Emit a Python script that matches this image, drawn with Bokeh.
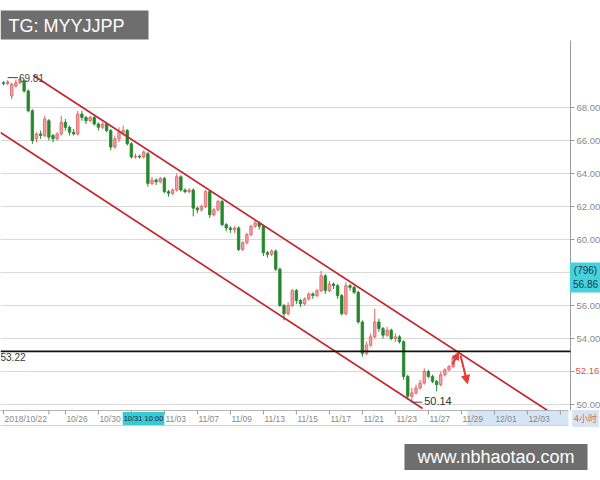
from bokeh.plotting import figure
from bokeh.models import ColumnDataSource, Range1d, Label, Arrow, NormalHead
from bokeh.embed import file_html
from bokeh.resources import INLINE
from bokeh.core.properties import value

# ---------------- data ----------------
opens = [69.5, 69.45, 68.7, 69.3, 69.5, 69.6, 69.0, 67.8, 66.1, 66.4, 66.3,
         67.2, 66.3, 66.1, 66.4, 67.1, 66.8, 66.5, 66.4, 67.6, 67.4,
         67.2, 67.4, 67.0, 66.8, 67.0, 66.6, 65.6, 66.1, 66.5, 66.6,
         65.8, 65.0, 65.05, 65.0, 65.2, 63.4, 63.6, 63.5, 63.7, 62.9,
         62.8, 63.0, 63.8, 63.0, 62.9, 63.0, 61.9, 61.8, 62.0, 62.9,
         61.5, 61.8, 62.3, 60.9, 60.7, 60.6, 60.7, 59.4, 59.8, 60.3,
         60.8, 61.0, 60.8, 59.2, 59.1, 59.3, 58.2, 56.0, 55.5, 56.0,
         56.9, 56.3, 56.1, 56.4, 56.7, 56.6, 56.9, 57.8, 56.9, 57.3,
         57.2, 56.6, 55.5, 57.2, 57.1, 56.8, 55.0, 53.1, 53.6, 54.1,
         55.0, 54.6, 54.2, 54.5, 54.0, 54.1, 53.8, 51.7, 50.5, 50.7,
         51.0, 51.3, 52.0, 51.7, 51.4, 51.2, 51.8, 52.1, 52.3]
closes = [69.45, 69.55, 69.4, 69.5, 69.7, 69.0, 67.8, 66.0, 66.4, 66.3, 67.3,
          66.2, 66.1, 66.4, 67.1, 66.8, 66.5, 66.4, 67.6, 67.4, 67.2,
          67.4, 67.0, 66.8, 67.0, 66.6, 65.6, 66.1, 66.5, 66.6, 65.8,
          65.0, 65.05, 65.0, 65.3, 63.4, 63.6, 63.5, 63.7, 62.9, 62.8,
          63.0, 63.8, 63.0, 62.9, 63.0, 61.9, 61.8, 62.0, 62.9, 61.5,
          61.8, 62.3, 60.9, 60.7, 60.6, 60.7, 59.4, 59.8, 60.3, 60.8,
          61.0, 60.8, 59.2, 59.1, 59.3, 58.2, 56.0, 55.5, 56.0, 56.9,
          56.3, 56.1, 56.4, 56.7, 56.6, 56.9, 57.8, 56.9, 57.3, 57.2,
          56.6, 55.5, 57.2, 57.1, 56.8, 55.0, 53.1, 53.6, 54.1, 55.0,
          54.6, 54.2, 54.5, 54.0, 54.1, 53.8, 51.7, 50.5, 50.7, 51.0,
          51.3, 52.0, 51.7, 51.4, 51.2, 51.8, 52.1, 52.3, 52.8]
highs = [69.6, 69.65, 69.5, 69.7, 69.81, 69.7, 69.1, 67.9, 66.5, 66.6, 67.5,
         67.3, 66.4, 66.5, 67.5, 67.3, 66.9, 66.7, 67.8, 67.8, 67.5,
         67.5, 67.5, 67.1, 67.1, 67.1, 66.7, 66.3, 66.8, 66.9, 66.7,
         65.9, 65.2, 65.15, 65.4, 65.3, 63.8, 63.7, 63.8, 63.8, 63.0,
         63.1, 64.0, 63.9, 63.1, 63.1, 63.1, 62.0, 62.1, 63.0, 63.0,
         61.9, 62.4, 62.4, 61.0, 60.8, 60.8, 60.8, 59.9, 60.4, 60.9,
         61.2, 61.1, 60.9, 59.3, 59.4, 59.4, 58.3, 56.1, 56.2, 57.0,
         57.0, 56.4, 56.5, 56.8, 56.8, 57.0, 58.1, 57.9, 57.5, 57.4,
         57.3, 56.7, 57.4, 57.3, 57.2, 56.9, 55.1, 53.8, 54.3, 55.8,
         55.2, 54.7, 54.7, 54.6, 54.3, 54.2, 53.9, 51.8, 51.0, 51.2,
         51.5, 52.2, 52.1, 51.8, 51.5, 52.0, 52.2, 52.4, 53.0]
lows = [69.35, 69.35, 68.5, 69.2, 69.4, 68.9, 67.7, 65.8, 65.9, 66.1, 66.2,
        66.0, 65.9, 66.0, 66.3, 66.6, 66.3, 66.3, 66.3, 67.2, 67.0,
        67.1, 66.9, 66.6, 66.7, 66.5, 65.4, 65.5, 65.9, 66.3, 65.7,
        64.9, 64.9, 64.9, 64.9, 63.2, 63.3, 63.3, 63.4, 62.8, 62.6,
        62.7, 62.9, 62.9, 62.8, 62.8, 61.4, 61.6, 61.7, 61.9, 61.3,
        61.4, 61.7, 60.8, 60.5, 60.4, 60.4, 59.3, 59.3, 59.7, 60.2,
        60.7, 60.6, 59.0, 58.9, 59.0, 58.1, 55.9, 55.1, 55.4, 55.9,
        56.1, 55.9, 56.0, 56.3, 56.4, 56.5, 56.8, 56.7, 56.8, 57.0,
        56.4, 55.4, 55.4, 56.9, 56.7, 54.9, 52.9, 53.0, 53.5, 54.0,
        54.4, 54.0, 54.1, 53.9, 53.8, 53.7, 51.5, 50.3, 50.14, 50.6,
        50.9, 51.2, 51.6, 51.3, 50.8, 51.1, 51.7, 52.0, 52.2]
bar_index = list(range(len(opens)))

tick_pos = [0, 11, 15, 23, 31, 39, 47, 55, 63, 71, 79, 87, 95, 103, 111, 119, 127, 135]
tick_labels = ["2018/10/22", "", "10/26", "10/30", "", "11/03", "11/07", "11/09", "11/13",
               "11/15", "11/17", "11/21", "11/23", "11/27", "11/29", "12/01", "12/03", ""]
y_ticks = [50, 52, 54, 56, 58, 60, 62, 64, 66, 68]
y_tick_labels = ["50.00", "", "54.00", "56.00", "", "60.00", "62.00", "64.00", "66.00", "68.00"]

channel_upper_x = [7.27, 131.9]
channel_upper_y = [69.94, 49.64]
channel_lower_x = [-0.73, 101.6]
channel_lower_y = [66.48, 49.76]
support_level = 53.22
peak_value, peak_index = 69.81, 4
trough_value, trough_index = 50.14, 100
last_price = "52.16"
crosshair_text = "(796)\n56.86"
crosshair_time = "10/31 10:00"
period_text = "4小时"

# ---------------- helpers: reference pixel -> data ----------------
def px_x(X):
    return (X - 3) / 4.125

def px_y(Y):
    return 68 - (Y - 107) / 16.5

FONT = value("Liberation Sans")
UP_FILL, UP_LINE = "#f2a0a0", "#df5f62"
DN_FILL, DN_LINE = "#27872f", "#27872f"
AX = "#9a9a9a"

p = figure(width=600, height=480, output_backend="svg", toolbar_location=None,
           x_range=Range1d(px_x(0), px_x(600)), y_range=Range1d(px_y(480), px_y(0)),
           x_axis_location=None, y_axis_location=None,
           min_border_left=0, min_border_right=0, min_border_top=0, min_border_bottom=0)
p.outline_line_color = None
p.background_fill_color = "white"
p.border_fill_color = "white"
p.grid.visible = False

# horizontal grid (stops at the price scale)
axis_x = px_x(570)
p.segment(x0=[px_x(0)] * len(y_ticks), y0=y_ticks, x1=[axis_x] * len(y_ticks), y1=y_ticks,
          line_color="#d9d9d9", line_width=1)

# price scale on the right
p.line([axis_x, axis_x], [px_y(410), px_y(40)], line_color=AX, line_width=1)
p.segment(x0=[axis_x] * len(y_ticks), y0=y_ticks, x1=[px_x(574)] * len(y_ticks), y1=y_ticks,
          line_color=AX, line_width=1)
p.text(x=[px_x(576)] * len(y_ticks), y=y_ticks, text=y_tick_labels, text_font=FONT,
       text_font_size="9.5px", text_color="#8a8a8a", text_baseline="middle")

# candles
up = [c >= o for o, c in zip(opens, closes)]
src = ColumnDataSource(dict(
    x=bar_index, o=opens, c=closes, h=highs, l=lows,
    top=[max(o, c) + (0.03 if o == c else 0) for o, c in zip(opens, closes)],
    bot=[min(o, c) for o, c in zip(opens, closes)],
    fill=[UP_FILL if u else DN_FILL for u in up],
    line=[UP_LINE if u else DN_LINE for u in up],
))
p.segment(x0="x", y0="h", x1="x", y1="l", color="line", line_width=1, source=src)
p.vbar(x="x", width=0.6, top="top", bottom="bot", fill_color="fill", line_color="line",
       line_width=0.8, source=src)

# channel lines
p.line(channel_upper_x, channel_upper_y, line_color="#c4262e", line_width=1.7)
p.line(channel_lower_x, channel_lower_y, line_color="#c4262e", line_width=1.7)

# horizontal level
p.segment(x0=[px_x(0)], y0=[support_level], x1=[axis_x], y1=[support_level],
          line_color="#111111", line_width=1.6)
p.text(x=[px_x(0)], y=[support_level], text=[f"{support_level:.2f}"], text_font=FONT,
       text_font_size="10px", text_color="#333333", text_baseline="top", y_offset=2)

# peak / trough markers
p.segment(x0=[peak_index - 3], y0=[peak_value], x1=[peak_index - 0.5], y1=[peak_value],
          line_color="#444444", line_width=1)
p.text(x=[peak_index - 0.5], y=[peak_value], text=[f"{peak_value:.2f}"], text_font=FONT,
       text_font_size="10px", text_color="#444444", text_baseline="middle", x_offset=1)
p.segment(x0=[trough_index - 1], y0=[trough_value], x1=[trough_index + 1.5], y1=[trough_value],
          line_color="#444444", line_width=1)
p.text(x=[trough_index + 1.5], y=[trough_value], text=[f"{trough_value:.2f}"], text_font=FONT,
       text_font_size="11px", text_color="#333333", text_baseline="bottom", x_offset=2, y_offset=3)

# arrows
p.add_layout(Arrow(end=NormalHead(size=7, fill_color="#e33a36", line_color="#e33a36"),
                   x_start=px_x(452), y_start=px_y(364), x_end=px_x(458), y_end=px_y(352),
                   line_color="#e33a36", line_width=2))
p.add_layout(Arrow(end=NormalHead(size=8, fill_color="#e33a36", line_color="#e33a36"),
                   x_start=px_x(460), y_start=px_y(355), x_end=px_x(467), y_end=px_y(383),
                   line_color="#e33a36", line_width=2))

# time strip
strip_top, strip_bot = px_y(410), px_y(425)
p.quad(left=[px_x(467)], right=[px_x(568)], top=[strip_top], bottom=[strip_bot],
       fill_color="#d5e5f5", line_color=None)
p.line([px_x(0), px_x(568)], [strip_top, strip_top], line_color="#b5b5b5", line_width=1)
p.line([px_x(0), px_x(568)], [strip_bot, strip_bot], line_color="#d0d0d0", line_width=1)
p.segment(x0=tick_pos, y0=[strip_top] * len(tick_pos), x1=tick_pos,
          y1=[px_y(414)] * len(tick_pos), line_color="#999999", line_width=1)
p.text(x=tick_pos, y=[px_y(418)] * len(tick_pos), text=tick_labels, text_font=FONT,
       text_font_size="8.5px", text_color="#888888", text_baseline="middle", x_offset=1)
p.add_layout(Label(x=px_x(143), y=px_y(418), text=crosshair_time, text_align="center",
                   text_baseline="middle", text_font_size="7.5px", text_font="Liberation Sans",
                   text_color="#1a2a3a", background_fill_color="#38c9d5",
                   padding=dict(left=1, right=1, top=2, bottom=2)))

# right-side labels
p.add_layout(Label(x=px_x(585), y=px_y(277), text=crosshair_text, text_align="center",
                   text_baseline="middle", text_font_size="10px", text_font="Liberation Sans",
                   text_color="#1f3550", background_fill_color="#45d2dc", padding=3))
p.add_layout(Label(x=px_x(575), y=px_y(370), text=last_price, text_align="left",
                   text_baseline="middle", text_font_size="9.5px", text_font="Liberation Sans",
                   text_color="#e0544c"))
p.add_layout(Label(x=px_x(585), y=px_y(418), text=period_text, text_align="center",
                   text_baseline="middle", text_font_size="9px", text_font="Noto Sans CJK SC",
                   text_color="#e0673c", background_fill_color="#d5e5f5", padding=2))

# watermarks
p.quad(left=[px_x(0)], right=[px_x(148)], top=[px_y(10)], bottom=[px_y(39)],
       fill_color="#5e5e5e", fill_alpha=0.9, line_color=None)
p.text(x=[px_x(8)], y=[px_y(25)], text=["TG: MYYJJPP"], text_font=FONT,
       text_font_size="18px", text_color="white", text_baseline="middle")
p.add_layout(Label(x=px_x(495.5), y=px_y(456.5), text="www.nbhaotao.com", text_align="center",
                   text_baseline="middle", text_font_size="18px", text_font="Liberation Sans",
                   text_color="white", background_fill_color="#5e5e5e", background_fill_alpha=0.9,
                   padding=dict(left=13, right=13, top=3, bottom=3)))

open("out.html", "w").write(file_html(p, INLINE))
